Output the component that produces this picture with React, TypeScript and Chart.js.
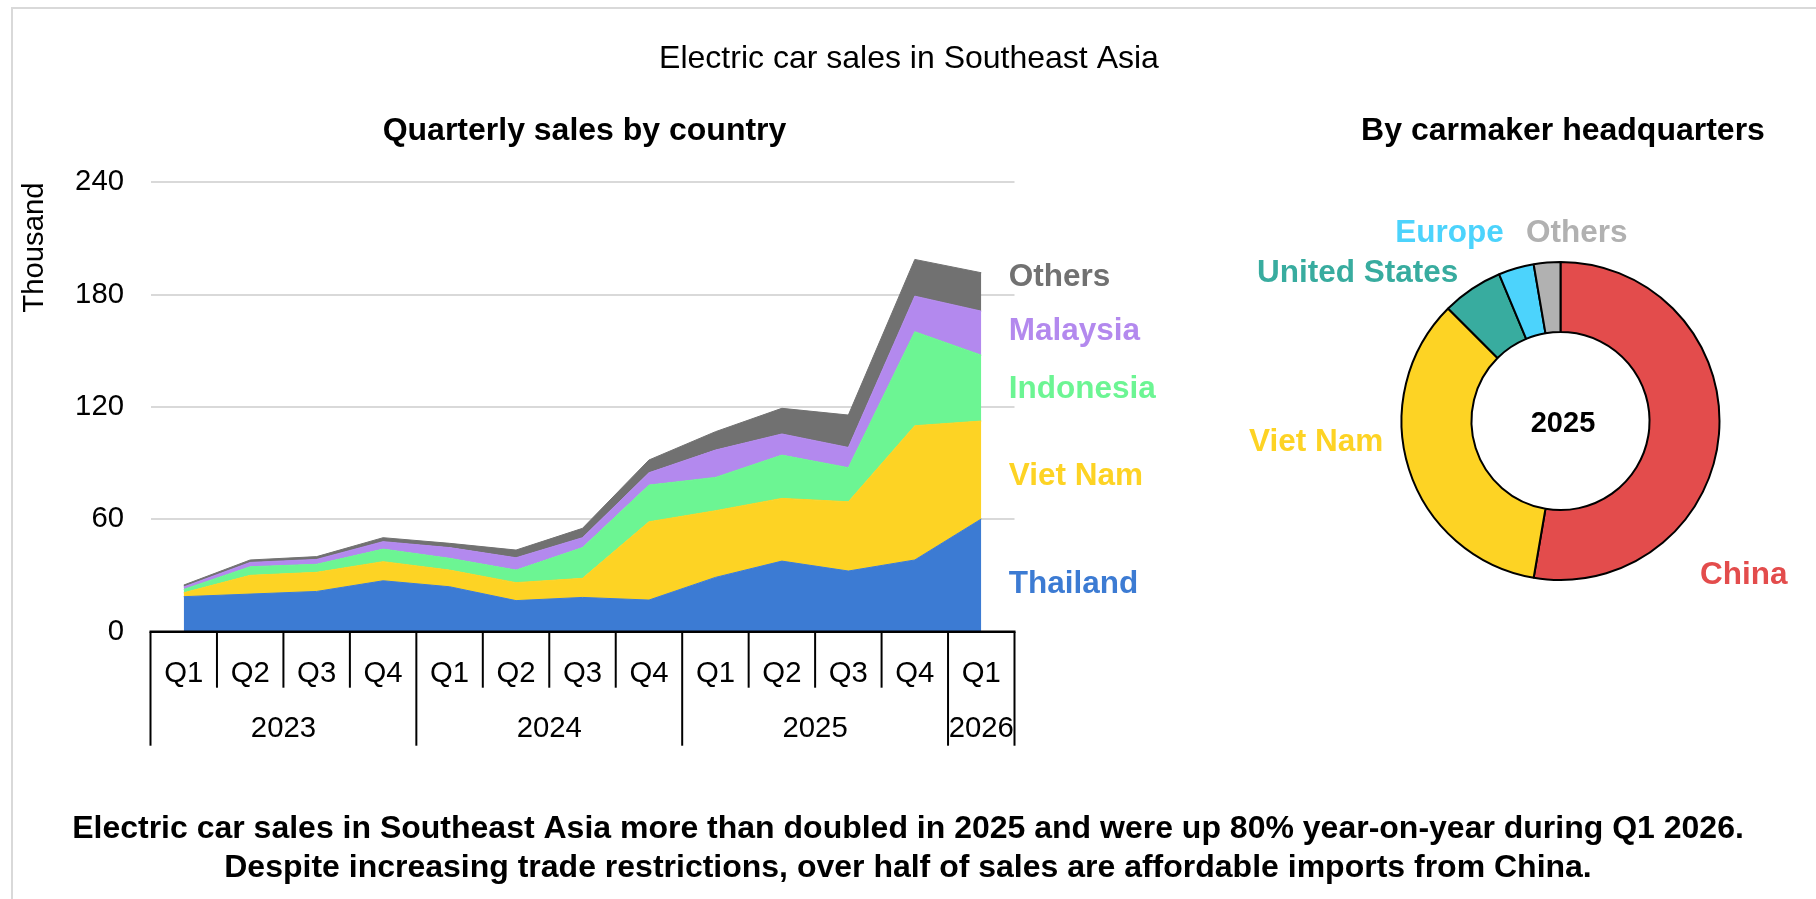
import React, { useEffect, useRef } from 'react';
import { Chart, registerables } from 'chart.js';

Chart.register(...registerables);

const W = 1816;
const H = 899;
const FONT = '"Liberation Sans", Arial, Helvetica, sans-serif';

// ---------- data ----------
const quarters = ['Q1', 'Q2', 'Q3', 'Q4', 'Q1', 'Q2', 'Q3', 'Q4', 'Q1', 'Q2', 'Q3', 'Q4', 'Q1'];
const years = ['2023', '2024', '2025', '2026'];
const quartersPerYear = [4, 4, 4, 1];

const seriesNames = ['Thailand', 'Viet Nam', 'Indonesia', 'Malaysia', 'Others'];
const thailand = [18.7, 20.1, 21.5, 27.2, 24.0, 16.6, 18.3, 16.9, 29.0, 37.7, 32.4, 38.3, 60.2];
const vietNam = [2.1, 10.0, 10.2, 10.2, 8.9, 9.6, 10.2, 41.8, 35.6, 33.5, 37.0, 71.7, 52.3];
const indonesia = [1.8, 4.6, 4.3, 6.7, 6.3, 6.7, 16.4, 19.6, 17.8, 23.1, 18.2, 50.2, 35.2];
const malaysia = [1.3, 2.3, 2.6, 4.0, 5.7, 6.6, 5.3, 6.6, 14.6, 11.3, 10.8, 19.0, 23.5];
const otherCountries = [1.0, 1.3, 1.5, 2.1, 2.3, 4.1, 5.0, 6.8, 9.8, 13.7, 17.3, 19.6, 20.5];

const yTicks = [0, 60, 120, 180, 240];

const makers = ['China', 'Viet Nam', 'United States', 'Europe', 'Others'];
const makerShare2025 = [52.7, 34.8, 6.2, 3.6, 2.7];
const donutCentre = '2025';

const mainTitle = 'Electric car sales in Southeast Asia';
const leftTitle = 'Quarterly sales by country';
const rightTitle = 'By carmaker headquarters';
const yAxisTitle = 'Thousand';
const captionLines = [
  'Electric car sales in Southeast Asia more than doubled in 2025 and were up 80% year-on-year during Q1 2026.',
  'Despite increasing trade restrictions, over half of sales are affordable imports from China.',
];

// ---------- styles ----------
const seriesColors = ['#3c7bd3', '#fdd324', '#6cf593', '#b389ee', '#717171'];
const makerColors = ['#e34c4c', '#fdd324', '#38ac9f', '#4cd3fc', '#b1b1b1'];
const GRID = '#d9d9d9';
const AXIS_FONT = 29.3;

const yearOf = (i: number) => {
  let acc = 0;
  for (let j = 0; j < years.length; j++) {
    acc += quartersPerYear[j];
    if (i < acc) return years[j];
  }
  return '';
};

const decorA = {
  id: 'decorA',
  afterDraw(chart: any) {
    const { ctx, chartArea: ar } = chart;
    const xs = chart.scales.x;
    ctx.save();
    // outer frame (top & left visible)
    ctx.fillStyle = GRID;
    ctx.fillRect(11, 7, W, 2);
    ctx.fillRect(11, 7, 2, H);

    // x axis line
    ctx.strokeStyle = '#000';
    ctx.lineWidth = 2.5;
    ctx.beginPath();
    ctx.moveTo(ar.left - 1, ar.bottom);
    ctx.lineTo(ar.right + 1, ar.bottom);
    ctx.stroke();

    // separators
    const n = quarters.length;
    const w = (ar.right - ar.left) / n;
    const yearEdges = new Set<number>();
    let acc = 0;
    yearEdges.add(0);
    quartersPerYear.forEach((q) => {
      acc += q;
      yearEdges.add(acc);
    });
    ctx.lineWidth = 2;
    for (let k = 0; k <= n; k++) {
      const x = ar.left + k * w;
      const long = yearEdges.has(k);
      ctx.beginPath();
      ctx.moveTo(x, ar.bottom);
      ctx.lineTo(x, ar.bottom + (long ? 114 : 56));
      ctx.stroke();
    }

    // category labels
    ctx.fillStyle = '#000';
    ctx.font = `${AXIS_FONT}px ${FONT}`;
    ctx.textAlign = 'center';
    ctx.textBaseline = 'alphabetic';
    quarters.forEach((q, i) => ctx.fillText(q, xs.getPixelForValue(i), ar.bottom + 50));
    acc = 0;
    years.forEach((y, j) => {
      const c = ar.left + (acc + quartersPerYear[j] / 2) * w;
      ctx.fillText(y, c, ar.bottom + 105);
      acc += quartersPerYear[j];
    });

    // y axis title
    ctx.save();
    ctx.translate(43, 247.5);
    ctx.rotate(-Math.PI / 2);
    ctx.fillText(yAxisTitle, 0, 0);
    ctx.restore();

    // titles
    ctx.font = `32px ${FONT}`;
    ctx.fillText(mainTitle, 909, 68);
    ctx.font = `bold 32px ${FONT}`;
    ctx.fillText(leftTitle, 584.5, 139.5);
    ctx.fillText(rightTitle, 1563, 139.5);
    ctx.fillText(captionLines[0], 908, 838.4);
    ctx.fillText(captionLines[1], 908, 876.6);

    // series labels
    const labelBase = [592.7, 485, 397.7, 340, 286];
    ctx.textAlign = 'left';
    ctx.font = `bold 31.5px ${FONT}`;
    seriesNames.forEach((s, i) => {
      ctx.fillStyle = seriesColors[i];
      ctx.fillText(s, 1008.7, labelBase[i]);
    });
    ctx.restore();
  },
};

const decorB = {
  id: 'decorB',
  afterDraw(chart: any) {
    const { ctx, chartArea: ar } = chart;
    ctx.save();
    const cx = (ar.left + ar.right) / 2;
    const cy = (ar.top + ar.bottom) / 2;
    ctx.textBaseline = 'alphabetic';
    ctx.textAlign = 'center';
    ctx.fillStyle = '#000';
    ctx.font = `bold 29px ${FONT}`;
    ctx.fillText(donutCentre, cx + 2.5, cy + 10.7);

    const pos: [number, number][] = [
      [1700, 584.3],
      [1249, 450.7],
      [1257, 281.7],
      [1395.3, 241.7],
      [1526, 241.7],
    ];
    ctx.textAlign = 'left';
    ctx.font = `bold 31.5px ${FONT}`;
    makers.forEach((m, i) => {
      ctx.fillStyle = makerColors[i];
      ctx.fillText(m, pos[i][0], pos[i][1]);
    });
    ctx.restore();
  },
};

export default function App() {
  const aRef = useRef<HTMLCanvasElement>(null);
  const bRef = useRef<HTMLCanvasElement>(null);

  useEffect(() => {
    const series = [thailand, vietNam, indonesia, malaysia, otherCountries];
    const a = new Chart(aRef.current as HTMLCanvasElement, {
      type: 'line',
      data: {
        labels: quarters.map((q, i) => `${q} ${yearOf(i)}`),
        datasets: series.map((d, i) => ({
          label: seriesNames[i],
          data: d,
          backgroundColor: seriesColors[i],
          borderColor: seriesColors[i],
          borderWidth: 1,
          pointRadius: 0,
          tension: 0,
          fill: i === 0 ? 'origin' : '-1',
        })),
      },
      options: {
        responsive: false,
        maintainAspectRatio: false,
        animation: false,
        events: [],
        layout: { padding: { left: 0, top: 182.3, right: 801.5, bottom: 267.3 } },
        plugins: {
          legend: { display: false },
          tooltip: { enabled: false },
          title: { display: false },
        },
        scales: {
          x: {
            type: 'category',
            offset: true,
            display: false,
            afterFit: (s: any) => {
              s.height = 0;
            },
          },
          y: {
            stacked: true,
            min: yTicks[0],
            max: yTicks[yTicks.length - 1],
            ticks: {
              stepSize: yTicks[1] - yTicks[0],
              padding: 26.5,
              color: '#000',
              font: { family: FONT, size: AXIS_FONT },
            },
            grid: { color: GRID, lineWidth: 2, drawTicks: false },
            border: { display: false },
            afterFit: (s: any) => {
              s.width = 150.5;
            },
          },
        },
      } as any,
      plugins: [decorA],
    });

    const b = new Chart(bRef.current as HTMLCanvasElement, {
      type: 'doughnut',
      data: {
        labels: makers,
        datasets: [
          {
            data: makerShare2025,
            backgroundColor: makerColors,
            borderColor: '#000',
            borderWidth: 2,
          },
        ],
      },
      options: {
        responsive: false,
        maintainAspectRatio: false,
        animation: false,
        events: [],
        cutout: '56%',
        layout: { padding: { left: 1400, top: 261, right: 95, bottom: 318 } },
        plugins: { legend: { display: false }, tooltip: { enabled: false } },
      } as any,
      plugins: [decorB],
    });

    return () => {
      a.destroy();
      b.destroy();
    };
  }, []);

  return (
    <div
      style={{
        position: 'absolute',
        left: 0,
        top: 0,
        width: W,
        height: H,
        overflow: 'hidden',
        background: '#fff',
      }}
    >
      <canvas
        ref={aRef}
        width={W}
        height={H}
        style={{ position: 'absolute', left: 0, top: 0, width: W, height: H }}
      />
      <canvas
        ref={bRef}
        width={W}
        height={H}
        style={{ position: 'absolute', left: 0, top: 0, width: W, height: H }}
      />
    </div>
  );
}
